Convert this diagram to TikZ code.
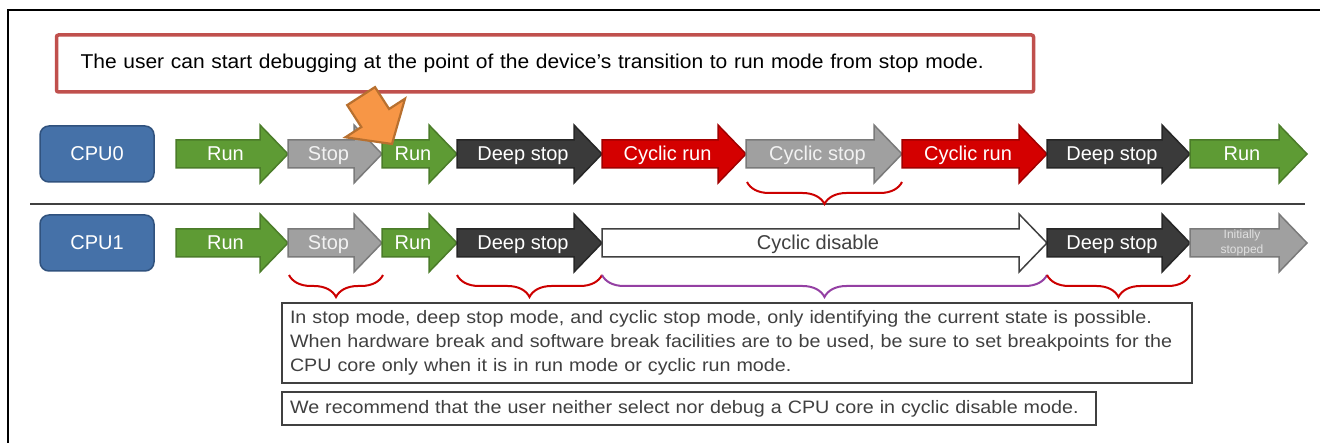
\documentclass[tikz,border=0pt]{standalone}
\usepackage{fontspec}
\setmainfont{Liberation Sans}
\newfontfamily\notefont[FakeStretch=1.05]{Liberation Sans}
\newfontfamily\infofont[FakeStretch=1.095]{Liberation Sans}
\usetikzlibrary{decorations.pathreplacing}

\definecolor{gfill}{HTML}{5E9B34}
\definecolor{gline}{HTML}{4B7C29}
\definecolor{sfill}{HTML}{A0A0A0}
\definecolor{sline}{HTML}{7A7A7A}
\definecolor{dfill}{HTML}{3A3A3A}
\definecolor{dline}{HTML}{262626}
\definecolor{cfill}{HTML}{D40000}
\definecolor{cline}{HTML}{A00000}
\definecolor{cpufill}{HTML}{4571A8}
\definecolor{cpuline}{HTML}{30527E}
\definecolor{notered}{HTML}{C0504D}
\definecolor{txtgray}{HTML}{404040}
\definecolor{bracered}{HTML}{CC0000}
\definecolor{bracepurple}{HTML}{9440A3}
\definecolor{ofill}{HTML}{F79646}
\definecolor{oline}{HTML}{B8702F}

\tikzset{
  sgreen/.style={fill=gfill, draw=gline, line width=1.5pt},
  sgreen txt/.style={text=white},
  sgray/.style={fill=sfill, draw=sline, line width=1.5pt},
  sgray txt/.style={text=white!95!black},
  sdark/.style={fill=dfill, draw=dline, line width=1.5pt},
  sdark txt/.style={text=white},
  scyc/.style={fill=cfill, draw=cline, line width=1.5pt},
  scyc txt/.style={text=white},
  swhite/.style={fill=white, draw=txtgray, line width=1.5pt},
  swhite txt/.style={text=txtgray},
  sinit/.style={fill=sfill, draw=sline, line width=1.5pt},
  sinit txt/.style={text=white!88!black, font=\fontsize{12}{15.5}\selectfont,
    align=center, anchor=center, yshift=7pt},
  lbl/.style={inner sep=0pt, anchor=base, font=\fontsize{20}{23}\selectfont},
  cpubox/.style={fill=cpufill, draw=cpuline, line width=1.5pt, rounded corners=9pt,
    minimum width=114pt, minimum height=56pt, text=white, font=\fontsize{20}{23}\selectfont},
  infobox/.style={draw=txtgray, line width=2pt, fill=white, text=txtgray, align=left,
    inner xsep=8pt, inner ysep=0pt, font=\infofont\fontsize{18}{24}\selectfont},
  brc/.style={decorate, decoration={brace, mirror, amplitude=22pt}, line width=2pt},
}

% stage arrow: name, style, tail x, tip x, centre y, label
\newcommand\stagearrow[6]{%
  \draw[#2] (#3,#5-14) -- ({#4-28},#5-14) -- ({#4-28},#5-29) -- (#4,#5)
    -- ({#4-28},#5+29) -- ({#4-28},#5+14) -- (#3,#5+14) -- cycle;
  \node[lbl, #2 txt] (#1) at ({(#3+#4-13)/2},#5+7) {#6};
}

\begin{document}
\begin{tikzpicture}[x=1pt, y=-1pt]
\useasboundingbox (0,0) rectangle (1320,443);
\clip (0,0) rectangle (1320,443);

% outer frame
\draw[line width=2.2pt, black] (8,460) -- (8,10) -- (1340,10);

% headline note
\node[draw=notered, line width=3.5pt, rounded corners=2pt, fill=white,
  minimum height=57pt, text width=929pt, inner xsep=24pt, align=left,
  font=\notefont\fontsize{20}{23}\selectfont] (note) at (545,63.5)
  {The user can start debugging at the point of the device’s transition to run mode from stop mode.};

% CPU labels
\node[cpubox] (cpu0) at (97,154) {CPU0};
\node[cpubox] (cpu1) at (97,243) {CPU1};

% CPU0 timeline
\stagearrow{a1}{sgreen}{176}{288}{154}{Run}
\stagearrow{a2}{sgray}{288}{382}{154}{Stop}
\stagearrow{a3}{sgreen}{382}{457}{154}{Run}
\stagearrow{a4}{sdark}{457}{602}{154}{Deep stop}
\stagearrow{a5}{scyc}{602}{746}{154}{Cyclic run}
\stagearrow{a6}{sgray}{746}{902}{154}{Cyclic stop}
\stagearrow{a7}{scyc}{902}{1047}{154}{Cyclic run}
\stagearrow{a8}{sdark}{1047}{1190}{154}{Deep stop}
\stagearrow{a9}{sgreen}{1190}{1307}{154}{Run}

% separator between the cores
\draw[line width=2.5pt, txtgray] (30,204) -- (1305,204);

% CPU1 timeline
\stagearrow{b1}{sgreen}{176}{288}{243}{Run}
\stagearrow{b2}{sgray}{288}{382}{243}{Stop}
\stagearrow{b3}{sgreen}{382}{457}{243}{Run}
\stagearrow{b4}{sdark}{457}{602}{243}{Deep stop}
\stagearrow{b5}{swhite}{602}{1047}{243}{Cyclic disable}
\stagearrow{b6}{sdark}{1047}{1190}{243}{Deep stop}
\stagearrow{b7}{sinit}{1190}{1307}{243}{Initially\\stopped}

% orange pointer at the stop-to-run transition
\draw[fill=ofill, draw=oline, line width=2.2pt, line join=miter]
  (347.2,105.1) -- (375.0,87.1) -- (389.1,109.0) -- (405.0,98.7)
  -- (392,144) -- (345.4,137.3) -- (361.3,127.0) -- cycle;

% braces
\draw[brc, bracered] (747,182) -- (902,182);
\draw[brc, bracered] (289,275) -- (383,275);
\draw[brc, bracered] (457,275) -- (602,275);
\draw[brc, bracepurple] (602,275) -- (1047,275);
\draw[brc, bracered] (1047,275) -- (1190,275);

% explanation boxes
\node[infobox, text width=894pt, minimum height=80pt] (info) at (737,343)
  {In stop mode, deep stop mode, and cyclic stop mode, only identifying the current state is possible.\\
   When hardware break and software break facilities are to be used, be sure to set breakpoints for the\\
   CPU core only when it is in run mode or cyclic run mode.};
\node[infobox, text width=798pt, minimum height=33pt] (rec) at (689,408.5)
  {We recommend that the user neither select nor debug a CPU core in cyclic disable mode.};
\end{tikzpicture}
\end{document}
